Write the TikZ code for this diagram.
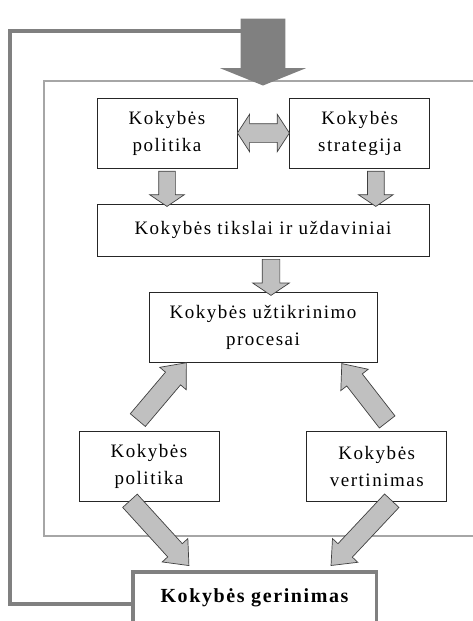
\documentclass[tikz,border=0pt]{standalone}
\usepackage{fontspec}
\setmainfont[LetterSpace=8]{Liberation Serif}
\usetikzlibrary{positioning,shapes.arrows,calc}

\definecolor{arrowgray}{HTML}{C0C0C0}
\definecolor{edgegray}{HTML}{404040}
\definecolor{loopgray}{HTML}{808080}
\definecolor{framegray}{HTML}{A6A6A6}

% fat arrow from one point to another
\newcommand{\blockarrow}[3][]{%
  \path let \p1=(#2), \p2=(#3), \n1={atan2(\y2-\y1,\x2-\x1)}, \n2={veclen(\x2-\x1,\y2-\y1)} in
    node[arrowbox, #1, minimum height=\n2, rotate=\n1] at ($(\p1)!0.5!(\p2)$) {};}

\begin{document}
\begin{tikzpicture}[x=1pt, y=-1pt,
    box/.style={draw=black!85, line width=0.8pt, align=center, minimum width=140pt, minimum height=70pt, inner sep=2pt, font=\fontsize{19}{27}\selectfont},
    finalbox/.style={draw=loopgray, line width=3.5pt, minimum width=243.5pt, minimum height=64pt, text height=13pt, text depth=17pt, font=\fontsize{20}{27}\selectfont\bfseries},
    arrowbox/.style={single arrow, draw=edgegray, fill=arrowgray, line width=0.7pt, inner xsep=0pt, inner ysep=8pt, single arrow head extend=9pt, single arrow tip angle=112, single arrow head indent=0pt},
    diag/.style={inner ysep=9.5pt, single arrow head extend=7.5pt, single arrow tip angle=80},
    twoway/.style={double arrow, draw=edgegray, fill=arrowgray, line width=0.7pt, inner xsep=0pt, inner ysep=9pt, double arrow head extend=9.5pt, double arrow tip angle=114, double arrow head indent=0pt},
    bigarrow/.style={draw=none, fill=loopgray, inner ysep=22pt, single arrow head extend=20.5pt, single arrow tip angle=136},
    loopline/.style={draw=loopgray, line width=4pt},
    frameline/.style={draw=framegray, line width=1.2pt}]
    \useasboundingbox (0,0) rectangle (473,621);

    % frame and feedback loop
    \draw[frameline] (473,81) -| (44,536) -- (473,536);

    \node[box] (pol) at (167,133) {Kokybės\\politika};
    \node[box, right=52pt of pol] (strat) {Kokybės\\strategija};
    \node[box, minimum width=332pt, minimum height=52pt] (tiks) at (263,230) {Kokybės tikslai ir uždaviniai};
    \node[box, minimum width=228pt, below=36pt of tiks] (proc) {Kokybės užtikrinimo\\procesai};
    \node[box] (pol2) at (149,466) {Kokybės\\politika};
    \node[box, right=87pt of pol2] (vert) {Kokybės\\vertinimas};
    \node[finalbox] (ger) at (254.5,604) {Kokybės gerinimas};

    \coordinate (intail) at (263,14);
    \coordinate (intip) at (263,81);
    \coordinate (ltop) at (242,30.5);
    \draw[loopline] (ger.west) -| (10,30.5) -- (ltop);
    \blockarrow[bigarrow]{intail}{intip}

    \node[twoway, minimum height=52pt] (both) at ($(pol.east)!0.5!(strat.west)$) {};
    \blockarrow{pol.south}{pol.south |- tiks.north}
    \blockarrow{[xshift=16pt]strat.south}{[xshift=16pt]strat.south |- tiks.north}
    \blockarrow[inner ysep=8.5pt, single arrow head extend=9.5pt]{[xshift=8pt]tiks.south}{[xshift=8pt]proc.north}
    \blockarrow[diag]{[xshift=-15pt,yshift=6pt]pol2.north}{[xshift=34pt,yshift=-4pt]proc.south west}
    \blockarrow[diag]{[xshift=14pt,yshift=4pt]vert.north}{[xshift=-32pt,yshift=-5pt]proc.south east}
    \blockarrow[diag]{[xshift=-23pt,yshift=5pt]pol2.south}{[xshift=54pt,yshift=9pt]ger.north west}
    \blockarrow[diag]{[xshift=19pt,yshift=5pt]vert.south}{[xshift=-43pt,yshift=9pt]ger.north east}
\end{tikzpicture}
\end{document}
